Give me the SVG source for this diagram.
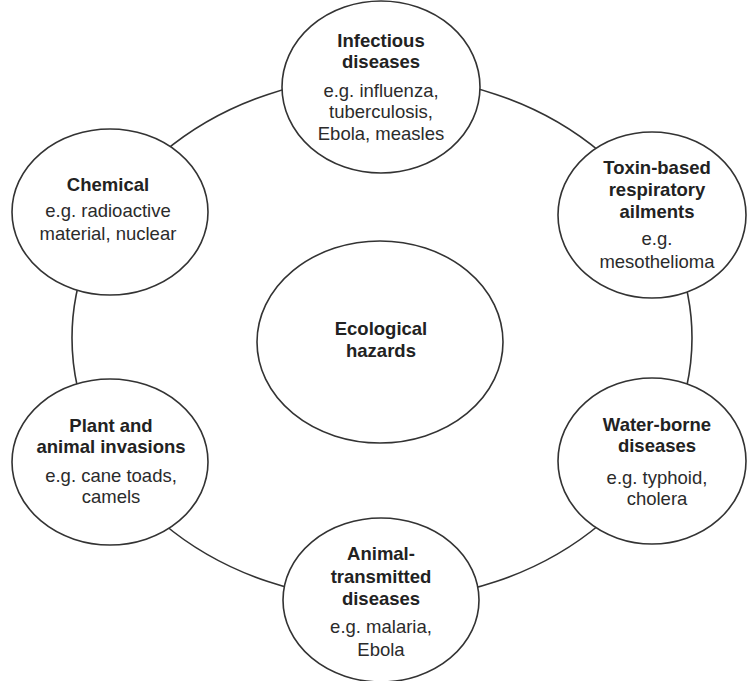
<svg xmlns="http://www.w3.org/2000/svg" width="748" height="681" viewBox="0 0 748 681">
<style>
.n{fill:#fff;stroke:#333;stroke-width:1.6}
.ring{fill:none;stroke:#333;stroke-width:1.6}
text{font-family:"Liberation Sans",Arial,sans-serif;font-size:18.5px;text-anchor:middle;fill:#2b2b2b}
.b{font-weight:bold;fill:#222}
</style>
<rect width="748" height="681" fill="#fff"/>
<g id="connectors">
<ellipse class="ring" cx="382" cy="338" rx="310" ry="262"/>
</g>
<g id="center">
<ellipse class="n" cx="380" cy="342" rx="123" ry="101"/>
<text class="b" x="381" y="335">Ecological</text>
<text class="b" x="381" y="357">hazards</text>
</g>
<g id="infectious">
<ellipse class="n" cx="381" cy="87" rx="99" ry="86"/>
<text class="b" x="381" y="47">Infectious</text>
<text class="b" x="381" y="68">diseases</text>
<text x="381" y="97">e.g. influenza,</text>
<text x="381" y="118">tuberculosis,</text>
<text x="381" y="140">Ebola, measles</text>
</g>
<g id="chemical">
<ellipse class="n" cx="110" cy="212" rx="98" ry="83"/>
<text class="b" x="108" y="191">Chemical</text>
<text x="108" y="217">e.g. radioactive</text>
<text x="108" y="240">material, nuclear</text>
</g>
<g id="toxin">
<ellipse class="n" cx="652" cy="215" rx="94" ry="83"/>
<text class="b" x="657" y="174">Toxin-based</text>
<text class="b" x="657" y="196">respiratory</text>
<text class="b" x="657" y="218">ailments</text>
<text x="657" y="245">e.g.</text>
<text x="657" y="268">mesothelioma</text>
</g>
<g id="plant">
<ellipse class="n" cx="110" cy="462" rx="98" ry="83"/>
<text class="b" x="111" y="432">Plant and</text>
<text class="b" x="111" y="453">animal invasions</text>
<text x="111" y="482">e.g. cane toads,</text>
<text x="111" y="503">camels</text>
</g>
<g id="water">
<ellipse class="n" cx="652" cy="461" rx="94" ry="83"/>
<text class="b" x="657" y="431">Water-borne</text>
<text class="b" x="657" y="452">diseases</text>
<text x="657" y="484">e.g. typhoid,</text>
<text x="657" y="505">cholera</text>
</g>
<g id="animal">
<ellipse class="n" cx="381" cy="600" rx="98" ry="82"/>
<text class="b" x="381" y="560">Animal-</text>
<text class="b" x="381" y="583">transmitted</text>
<text class="b" x="381" y="605">diseases</text>
<text x="381" y="633">e.g. malaria,</text>
<text x="381" y="656">Ebola</text>
</g>
</svg>
